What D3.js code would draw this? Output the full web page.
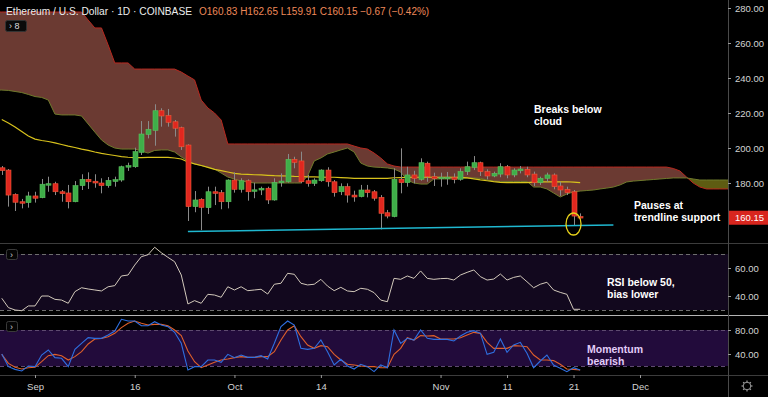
<!DOCTYPE html>
<html>
<head>
<meta charset="utf-8">
<script src="https://cdn.jsdelivr.net/npm/d3@7"></script>
<style>
body { margin: 0; background: #000; }
svg { display: block; font-family: "Liberation Sans", Arial, sans-serif; }
</style>
</head>
<body>
<svg id="chart" width="768" height="397"></svg>
<script>
// daily ETH/USD candles, 27 Aug 2019 .. 22 Nov 2019
var firstDay = "2019-08-27"
var opens = [
    188.7, 187.4, 173.5, 169.3, 168.8, 172.6, 171.6, 179.0, 179.6, 175.0,
    174.3, 169.3, 178.5, 182.1, 181.0, 180.0, 178.5, 180.9, 181.7, 189.1,
    189.3, 197.5, 207.8, 210.1, 221.3, 218.5, 215.0, 211.6, 201.7, 166.5,
    170.7, 165.9, 175.0, 174.5, 169.3, 181.7, 176.4, 181.3, 175.4, 176.0,
    177.0, 170.3, 180.2, 180.7, 193.5, 192.6, 181.3, 179.8, 181.3, 187.4,
    180.7, 175.0, 177.9, 173.1, 172.2, 176.0, 175.0, 171.8, 163.0, 160.8,
    182.1, 180.2, 184.6, 182.1, 191.3, 183.6, 182.5, 182.7, 183.3, 182.1,
    186.5, 188.9, 191.6, 186.5, 184.0, 185.1, 189.3, 184.6, 187.0, 187.8,
    185.1, 180.2, 182.7, 184.6, 178.3, 176.4, 175.0, 160.83
]
var highs = [
    189.7, 188.0, 174.1, 170.9, 175.0, 175.0, 182.3, 183.6, 180.7, 176.0,
    178.9, 181.1, 185.0, 186.1, 185.0, 182.7, 183.4, 183.6, 189.9, 191.6,
    200.2, 215.4, 215.4, 225.0, 222.7, 222.3, 216.0, 212.2, 202.1, 175.4,
    171.3, 177.9, 177.9, 176.0, 182.1, 186.1, 182.7, 182.1, 180.2, 177.9,
    177.9, 182.7, 185.5, 196.6, 195.0, 197.9, 184.6, 182.7, 187.8, 189.0,
    181.7, 179.8, 179.8, 175.6, 178.9, 178.9, 176.0, 173.1, 164.6, 188.4,
    199.8, 189.3, 187.0, 194.1, 192.2, 185.9, 185.9, 186.3, 185.5, 188.4,
    192.2, 195.4, 192.2, 187.8, 186.5, 191.3, 190.3, 188.4, 189.7, 189.3,
    186.5, 183.6, 185.9, 185.5, 180.7, 177.9, 176.0, 162.65
]
var lows = [
    184.6, 166.5, 164.0, 165.5, 165.9, 168.8, 171.3, 175.0, 173.1, 169.3,
    165.5, 169.0, 176.0, 176.6, 177.3, 174.1, 177.3, 177.9, 180.7, 186.9,
    188.7, 196.0, 205.5, 201.3, 212.2, 212.2, 206.5, 198.9, 158.3, 163.3,
    153.1, 162.3, 167.4, 165.0, 165.5, 174.5, 174.5, 169.9, 171.3, 173.1,
    168.0, 169.9, 177.9, 180.2, 188.4, 179.8, 177.9, 178.3, 180.7, 177.9,
    172.2, 173.1, 168.8, 169.3, 171.8, 171.8, 169.9, 153.5, 159.8, 160.4,
    174.1, 177.9, 179.8, 181.3, 180.7, 178.3, 177.9, 179.0, 179.8, 181.3,
    184.6, 187.4, 184.0, 182.1, 183.3, 183.3, 182.7, 183.3, 185.5, 183.3,
    178.3, 178.9, 180.7, 176.4, 172.6, 173.1, 156.0, 159.91
]
var closes = [
    187.1, 173.1, 169.0, 168.8, 172.6, 171.3, 179.3, 179.6, 175.0, 173.9,
    169.3, 178.5, 182.1, 180.7, 180.0, 178.5, 181.5, 181.9, 189.3, 189.9,
    197.9, 208.0, 210.7, 221.3, 218.3, 214.7, 211.3, 200.7, 166.5, 170.3,
    166.1, 175.0, 174.1, 169.3, 181.7, 176.4, 181.3, 175.0, 176.1, 177.0,
    170.3, 180.4, 181.1, 193.5, 191.8, 180.7, 179.8, 181.7, 187.4, 180.7,
    174.5, 177.9, 173.1, 172.0, 176.0, 174.5, 171.3, 162.7, 161.1, 182.1,
    180.2, 184.6, 182.7, 191.6, 183.6, 182.5, 183.3, 183.3, 182.1, 186.5,
    189.3, 191.6, 186.5, 184.0, 185.5, 189.3, 184.6, 187.4, 188.0, 184.6,
    180.2, 182.7, 184.6, 177.9, 176.0, 174.5, 161.1, 160.15
]
// yellow moving average, one value per candle
var maLine = [
    216.3, 214.3, 212.0, 209.4, 206.9, 205.1, 204.3, 203.7, 202.9, 202.0,
    201.1, 200.3, 199.4, 198.6, 197.7, 196.9, 196.3, 195.7, 195.1, 194.7,
    194.5, 194.5, 194.6, 194.7, 194.7, 194.6, 194.3, 193.7, 192.0, 190.9,
    190.0, 188.9, 187.8, 187.1, 186.3, 185.5, 185.1, 184.9, 184.7, 184.6,
    184.4, 184.2, 184.1, 184.0, 183.8, 183.7, 183.5, 183.5, 183.4, 183.3,
    183.3, 183.1, 182.9, 182.7, 182.7, 182.7, 182.7, 182.7, 182.7, 183.0,
    183.1, 183.2, 183.3, 183.3, 183.3, 183.3, 183.3, 183.3, 183.3, 183.2,
    182.9, 182.4, 181.8, 181.3, 180.8, 180.4, 180.2, 180.2, 180.2, 180.2,
    180.5, 180.7, 180.7, 180.7, 180.7, 180.7, 180.5, 180.2
]

// ichimoku cloud (leading spans, already shifted ahead), from 26 Aug
var cloudStart = "2019-08-26"
var spanA = [
    233.1, 233.1, 232.9, 232.3, 231.7, 230.6, 229.4, 228.9, 227.4, 219.4,
    218.9, 218.9, 218.9, 218.3, 213.7, 209.1, 204.6, 201.7, 200.0, 199.4,
    199.4, 199.4, 198.3, 197.1, 198.6, 198.9, 198.9, 197.7, 194.9, 192.6,
    190.9, 190.0, 189.1, 188.0, 185.7, 183.4, 182.3, 181.1, 180.6, 180.0,
    180.0, 180.0, 180.0, 180.0, 180.0, 180.0, 180.0, 184.0, 192.6, 194.3,
    196.6, 197.7, 198.9, 200.0, 197.7, 191.4, 189.7, 189.1, 188.9, 188.6,
    188.0, 186.3, 181.7, 180.0, 179.4, 179.4, 182.3, 182.3, 182.3, 182.3,
    182.6, 182.9, 182.9, 182.6, 181.7, 181.1, 180.9, 180.9, 180.9, 180.9,
    180.9, 177.7, 177.7, 176.6, 174.3, 172.0, 173.7, 174.9, 175.4, 175.7,
    176.0, 176.6, 177.1, 177.7, 178.9, 180.6, 181.1, 181.4, 181.7, 182.0,
    182.3, 182.6, 182.9, 182.9, 182.9, 182.3, 181.7, 181.7, 181.7, 181.7,
    181.7, 181.7, 181.7
]
var spanB = [
    277.7, 277.7, 277.7, 277.7, 277.7, 277.7, 277.7, 277.7, 277.7, 277.7,
    277.7, 277.7, 277.7, 277.7, 273.1, 268.6, 268.6, 258.9, 248.6, 248.6,
    248.6, 245.1, 245.1, 245.1, 245.1, 245.1, 245.1, 245.1, 243.4, 241.1,
    238.9, 227.4, 222.9, 220.0, 216.0, 202.3, 202.3, 202.3, 202.3, 202.3,
    202.3, 202.3, 202.3, 202.3, 202.3, 202.3, 202.3, 202.3, 202.3, 202.3,
    202.3, 202.3, 202.3, 202.3, 201.1, 200.0, 199.4, 197.1, 194.3, 190.9,
    189.7, 189.1, 189.1, 189.1, 189.1, 189.1, 189.1, 189.1, 189.1, 189.1,
    189.1, 189.1, 189.1, 189.1, 189.1, 189.1, 189.1, 189.1, 189.1, 189.1,
    189.1, 189.1, 189.1, 189.1, 189.1, 189.1, 189.1, 189.1, 189.1, 189.1,
    189.1, 189.1, 189.1, 189.1, 189.1, 189.1, 189.1, 189.1, 189.1, 189.1,
    189.1, 189.1, 188.3, 186.9, 183.4, 180.0, 177.7, 176.6, 176.6, 176.6,
    176.6, 176.6, 176.6
]

// oscillators, one value per candle
var rsi = [
    38.4, 31.7, 30.0, 29.5, 32.9, 32.9, 40.0, 40.0, 37.6, 37.1,
    34.8, 43.1, 45.9, 45.0, 44.3, 43.6, 46.6, 47.4, 54.3, 55.0,
    62.1, 68.1, 69.5, 74.8, 70.9, 67.6, 64.5, 55.0, 34.3, 36.7,
    34.8, 41.2, 40.7, 39.1, 46.6, 44.3, 46.6, 43.8, 44.3, 44.8,
    41.4, 48.4, 49.1, 56.2, 55.5, 49.1, 47.9, 48.4, 51.9, 47.1,
    43.8, 46.2, 43.6, 43.1, 45.5, 44.8, 42.4, 37.1, 35.9, 52.6,
    51.9, 54.3, 52.6, 57.9, 52.6, 51.9, 52.4, 52.6, 51.4, 55.0,
    56.9, 58.6, 53.8, 51.4, 52.1, 55.7, 51.4, 53.3, 54.3, 50.2,
    45.9, 48.4, 49.8, 44.3, 42.6, 41.2, 30.5, 30.5
]
var stochK = [
    40.0, 18.9, 14.4, 11.7, 20.0, 18.9, 38.3, 46.7, 33.9, 32.8,
    18.9, 47.8, 57.8, 67.2, 66.1, 66.1, 71.7, 78.3, 97.8, 95.0,
    95.0, 87.2, 87.2, 93.9, 88.3, 85.6, 76.1, 57.8, 13.3, 18.9,
    18.9, 30.0, 30.0, 26.1, 39.4, 33.9, 38.3, 34.4, 34.4, 37.2,
    31.7, 57.8, 85.6, 95.0, 88.3, 49.4, 47.8, 49.4, 63.3, 43.9,
    21.7, 31.1, 20.0, 15.0, 22.8, 18.9, 10.6, 21.7, 17.2, 80.0,
    57.8, 66.1, 63.3, 80.0, 66.1, 64.4, 64.4, 64.4, 61.7, 70.0,
    76.1, 78.9, 74.4, 39.4, 42.8, 65.0, 42.8, 55.0, 59.4, 41.1,
    17.2, 28.3, 38.3, 21.7, 16.1, 10.6, 17.2, 13.3
]
var stochD = [
    39.4, 24.4, 17.8, 15.0, 17.2, 17.8, 27.2, 37.2, 39.4, 37.2,
    30.0, 35.6, 43.9, 56.7, 65.0, 66.1, 68.9, 74.4, 83.9, 91.1,
    95.0, 91.1, 88.3, 89.4, 89.4, 87.2, 80.0, 70.6, 45.0, 27.2,
    17.2, 21.7, 26.1, 30.0, 31.7, 33.9, 35.6, 34.4, 34.4, 35.6,
    35.6, 43.9, 63.3, 80.0, 87.2, 68.9, 55.0, 49.4, 53.9, 52.2,
    39.4, 30.0, 22.8, 21.7, 20.0, 18.9, 18.9, 17.2, 17.2, 39.4,
    49.4, 67.2, 63.3, 70.6, 70.0, 70.6, 65.0, 65.0, 65.0, 67.2,
    71.7, 76.1, 74.4, 59.4, 49.4, 49.4, 49.4, 53.9, 53.3, 52.2,
    38.3, 30.0, 30.0, 29.0, 22.8, 15.0, 14.4, 13.3
]

var priceTicks = [180, 200, 220, 240, 260, 280]
var rsiTicks = [40, 60]
var rsiBands = [70, 30]
var stochTicks = [40, 80]
var stochBands = [80, 20]
var timeTicks = ["2019-09-01", "2019-09-16", "2019-10-01", "2019-10-14", "2019-11-01", "2019-11-11", "2019-11-21", "2019-12-01"]
var timeLabels = ["Sep", "16", "Oct", "14", "Nov", "11", "21", "Dec"]
var lastPrice = 160.15
var trendDates = ["2019-09-24", "2019-11-27"]
var trendPrices = [152.3, 156.0]

var parse = d3.utcParse("%Y-%m-%d")
var axisX = 728
var svg = d3.select("#chart")

var x = d3.scaleUtc().domain([parse("2019-09-01"), parse("2019-12-01")]).range([35, 640])
var yPrice = d3.scaleLinear().domain([160, 280]).range([218, 8])
var yRsi = d3.scaleLinear().domain([40, 60]).range([296, 268])
var yStoch = d3.scaleLinear().domain([40, 80]).range([354, 330])

var days = opens.map(function(d, i) { return d3.utcDay.offset(parse(firstDay), i) })
var cloudDays = spanA.map(function(d, i) { return d3.utcDay.offset(parse(cloudStart), i) })

svg.append("rect").attr("width", 768).attr("height", 397).attr("fill", "#000")

var defs = svg.append("defs")
defs.append("clipPath").attr("id", "pricePane")
    .append("rect").attr("x", 0).attr("y", 0).attr("width", axisX).attr("height", 243)
defs.append("clipPath").attr("id", "rsiPane")
    .append("rect").attr("x", 0).attr("y", 244).attr("width", axisX).attr("height", 71)
defs.append("clipPath").attr("id", "stochPane")
    .append("rect").attr("x", 0).attr("y", 316).attr("width", axisX).attr("height", 59)

// cloud: clip each fill to the side of the other span
var areaUp = d3.area().x(function(d, i) { return x(cloudDays[i]) }).y0(-20).y1(function(d) { return yPrice(d) })
var areaDown = d3.area().x(function(d, i) { return x(cloudDays[i]) }).y0(300).y1(function(d) { return yPrice(d) })
defs.append("clipPath").attr("id", "aboveA").append("path").attr("d", areaUp(spanA))
defs.append("clipPath").attr("id", "aboveB").append("path").attr("d", areaUp(spanB))

var price = svg.append("g").attr("clip-path", "url(#pricePane)")
price.append("g").attr("clip-path", "url(#aboveA)")
    .append("path").attr("d", areaDown(spanB)).attr("fill", "#6b3a32")
price.append("g").attr("clip-path", "url(#aboveB)")
    .append("path").attr("d", areaDown(spanA)).attr("fill", "#5e5c12")

var cloudLine = d3.line().x(function(d, i) { return x(cloudDays[i]) }).y(function(d) { return yPrice(d) })
price.append("path").attr("d", cloudLine(spanB)).attr("fill", "none").attr("stroke", "#b8281f").attr("stroke-width", 1)
price.append("path").attr("d", cloudLine(spanA)).attr("fill", "none").attr("stroke", "#6f7a2c").attr("stroke-width", 1)

// moving average
var maPath = d3.line().x(function(d, i) { return x(days[i]) }).y(function(d) { return yPrice(d) })
price.append("path").attr("d", maPath(maLine)).attr("fill", "none").attr("stroke", "#d8c21c").attr("stroke-width", 1.2)

// candles
var candles = price.selectAll(".candle").data(opens).enter().append("g").attr("class", "candle")
candles.append("line")
    .attr("x1", function(d, i) { return Math.round(x(days[i])) + 0.5 })
    .attr("x2", function(d, i) { return Math.round(x(days[i])) + 0.5 })
    .attr("y1", function(d, i) { return yPrice(highs[i]) })
    .attr("y2", function(d, i) { return yPrice(lows[i]) })
    .attr("stroke", "#8a8a8a").attr("stroke-width", 1)
candles.append("rect")
    .attr("x", function(d, i) { return Math.round(x(days[i])) - 2 })
    .attr("width", 5)
    .attr("y", function(d, i) { return yPrice(Math.max(opens[i], closes[i])) })
    .attr("height", function(d, i) { return Math.max(1.5, Math.abs(yPrice(opens[i]) - yPrice(closes[i]))) })
    .attr("fill", function(d, i) { return closes[i] >= opens[i] ? "#3fae49" : "#e0271f" })
    .attr("stroke", function(d, i) { return closes[i] >= opens[i] ? "#5cc15f" : "#ef5a3a" })
    .attr("stroke-width", 0.6)

// trendline and marker
price.append("line")
    .attr("x1", x(parse(trendDates[0]))).attr("y1", yPrice(trendPrices[0]))
    .attr("x2", x(parse(trendDates[1]))).attr("y2", yPrice(trendPrices[1]))
    .attr("stroke", "#1fb8d0").attr("stroke-width", 1.5)
price.append("ellipse")
    .attr("cx", x(days[86])).attr("cy", 224).attr("rx", 7.5).attr("ry", 11)
    .attr("fill", "none").attr("stroke", "#e8d21a").attr("stroke-width", 1.3)

// RSI pane
svg.append("rect").attr("x", 0).attr("y", yRsi(rsiBands[0])).attr("width", axisX)
    .attr("height", yRsi(rsiBands[1]) - yRsi(rsiBands[0])).attr("fill", "#12081e")
rsiBands.forEach(function(b) {
    svg.append("line").attr("x1", 0).attr("x2", axisX).attr("y1", yRsi(b) + 0.5).attr("y2", yRsi(b) + 0.5)
        .attr("stroke", "#6e6e6e").attr("stroke-dasharray", "4,3")
})
var rsiPath = d3.line().x(function(d, i) { return x(days[i]) }).y(function(d) { return yRsi(d) })
svg.append("path").attr("clip-path", "url(#rsiPane)").attr("d", rsiPath(rsi))
    .attr("fill", "none").attr("stroke", "#d2c9bb").attr("stroke-width", 1)

// stochastic pane
svg.append("rect").attr("x", 0).attr("y", yStoch(stochBands[0])).attr("width", axisX)
    .attr("height", yStoch(stochBands[1]) - yStoch(stochBands[0])).attr("fill", "#220b3b")
stochBands.forEach(function(b) {
    svg.append("line").attr("x1", 0).attr("x2", axisX).attr("y1", yStoch(b) + 0.5).attr("y2", yStoch(b) + 0.5)
        .attr("stroke", "#5e4a70").attr("stroke-dasharray", "4,3")
})
var stochPath = d3.line().x(function(d, i) { return x(days[i]) }).y(function(d) { return yStoch(d) })
var stochG = svg.append("g").attr("clip-path", "url(#stochPane)")
stochG.append("path").attr("d", stochPath(stochD)).attr("fill", "none").attr("stroke", "#e0602a").attr("stroke-width", 1.1)
stochG.append("path").attr("d", stochPath(stochK)).attr("fill", "none").attr("stroke", "#2f6fe0").attr("stroke-width", 1.1)

// pane borders
svg.append("line").attr("x1", 0).attr("x2", 768).attr("y1", 243.5).attr("y2", 243.5).attr("stroke", "#3c3c3c")
svg.append("line").attr("x1", 0).attr("x2", 768).attr("y1", 315.5).attr("y2", 315.5).attr("stroke", "#b4b4b4")
svg.append("line").attr("x1", 0).attr("x2", 768).attr("y1", 375.5).attr("y2", 375.5).attr("stroke", "#3c3c3c")
svg.append("line").attr("x1", axisX + 0.5).attr("x2", axisX + 0.5).attr("y1", 0).attr("y2", 397).attr("stroke", "#4a4a4a")

// axes
function styleAxis(g) {
    g.select(".domain").remove()
    g.selectAll("line").attr("stroke", "#9a9a9a")
    g.selectAll("text").attr("fill", "#d4d4d4").attr("font-size", "9.5px").attr("font-family", "Liberation Sans, Arial, sans-serif")
}
svg.append("g").attr("transform", "translate(" + axisX + ",0)")
    .call(d3.axisRight(yPrice).tickValues(priceTicks).tickFormat(d3.format(".2f")).tickSize(3).tickPadding(4))
    .call(styleAxis)
svg.append("g").attr("transform", "translate(" + axisX + ",0)")
    .call(d3.axisRight(yRsi).tickValues(rsiTicks).tickFormat(d3.format(".2f")).tickSize(3).tickPadding(4))
    .call(styleAxis)
svg.append("g").attr("transform", "translate(" + axisX + ",0)")
    .call(d3.axisRight(yStoch).tickValues(stochTicks).tickFormat(d3.format(".2f")).tickSize(3).tickPadding(4))
    .call(styleAxis)
svg.append("g").attr("transform", "translate(0,375)")
    .call(d3.axisBottom(x).tickValues(timeTicks.map(parse)).tickFormat(function(d, i) { return timeLabels[i] }).tickSize(3).tickPadding(5))
    .call(styleAxis)

// last price tag
svg.append("rect").attr("x", axisX + 1).attr("y", yPrice(lastPrice) - 7).attr("width", 40).attr("height", 14).attr("fill", "#d8261e")
svg.append("text").attr("x", axisX + 7).attr("y", yPrice(lastPrice) + 3.5).text(d3.format(".2f")(lastPrice))
    .attr("fill", "#fff").attr("font-size", "9.5px")

// header
svg.append("text").attr("x", 6).attr("y", 15).attr("fill", "#ededed").attr("font-size", "11px")
    .attr("textLength", 186).attr("lengthAdjust", "spacingAndGlyphs")
    .text("Ethereum / U.S. Dollar \u00b7 1D \u00b7 COINBASE")
svg.append("text").attr("x", 199).attr("y", 15).attr("fill", "#ee8a5a").attr("font-size", "10px")
    .text("O160.83 H162.65 L159.91 C160.15 \u22120.67 (\u22120.42%)")

// collapse buttons
svg.append("rect").attr("x", 5.5).attr("y", 20.5).attr("width", 21).attr("height", 11).attr("rx", 2)
    .attr("fill", "#0b0b0b").attr("stroke", "#333")
svg.append("text").attr("x", 9).attr("y", 29).attr("fill", "#ddd").attr("font-size", "9px").text("\u203a  8")
;[249, 321].forEach(function(top) {
    svg.append("rect").attr("x", 6.5).attr("y", top + 0.5).attr("width", 11).attr("height", 10).attr("rx", 2)
        .attr("fill", "#050505").attr("stroke", "#3a3a3a")
    svg.append("text").attr("x", 10).attr("y", top + 8.5).attr("fill", "#ccc").attr("font-size", "9px").text("\u203a")
})

// settings gear
var gear = svg.append("g").attr("transform", "translate(747,386)")
d3.range(8).forEach(function(k) {
    var a = k * Math.PI / 4
    gear.append("line").attr("x1", Math.cos(a) * 3.5).attr("y1", Math.sin(a) * 3.5)
        .attr("x2", Math.cos(a) * 5.5).attr("y2", Math.sin(a) * 5.5).attr("stroke", "#9a9a9a").attr("stroke-width", 1.2)
})
gear.append("circle").attr("r", 3.8).attr("fill", "#000").attr("stroke", "#9a9a9a").attr("stroke-width", 1)

// annotations
function note(lines, xPos, yPos, color) {
    var t = svg.append("text").attr("x", xPos).attr("y", yPos).attr("fill", color)
        .attr("font-size", "10.5px").attr("font-weight", "bold")
    lines.forEach(function(s, k) {
        t.append("tspan").attr("x", xPos).attr("dy", k == 0 ? 0 : 11.5).text(s)
    })
}
note(["Breaks below", "cloud"], 534, 113, "#fff")
note(["Pauses at", "trendline support"], 634, 209, "#fff")
note(["RSI below 50,", "bias lower"], 607, 286, "#fff")
note(["Momentum", "bearish"], 587, 353, "#e2cdf8")
</script>
</body>
</html>
